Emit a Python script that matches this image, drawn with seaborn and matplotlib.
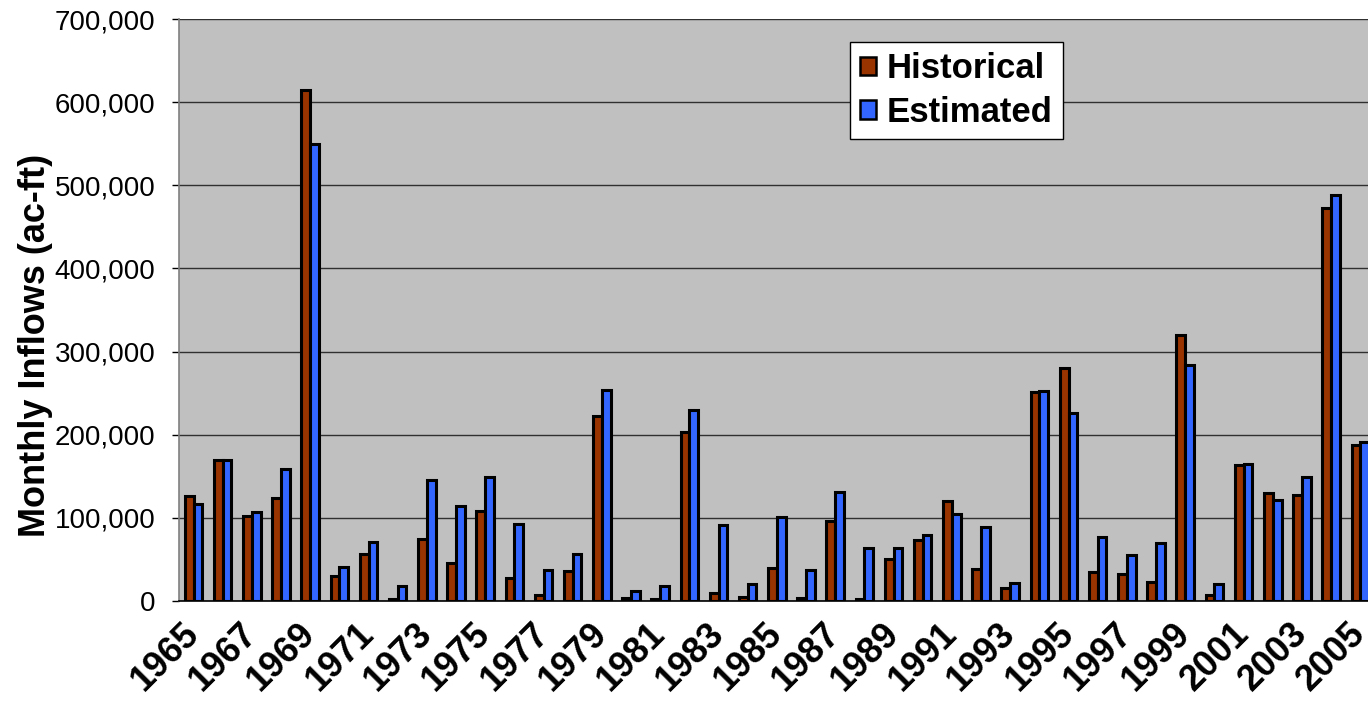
import numpy as np
import pandas as pd
import matplotlib
matplotlib.use("Agg")
import matplotlib.pyplot as plt
from matplotlib.patches import Patch
from matplotlib.ticker import FuncFormatter
import seaborn as sns

years = list(range(1965, 2006))
historical = [126000, 169500, 102000, 124000, 614500, 30500, 57000, 3000, 74000, 46000,
              108000, 27300, 6800, 35700, 223000, 3600, 2400, 203000, 10000, 4400,
              39400, 4000, 96000, 2400, 50600, 73000, 119700, 38600, 15700, 251000,
              280000, 35200, 32800, 22400, 320000, 7200, 163600, 130000, 128000, 472800,
              188000]
estimated = [116700, 170000, 107300, 158500, 549600, 40700, 70700, 18300, 145500, 113800,
             149000, 92400, 37800, 57000, 253400, 12000, 17700, 229700, 91000, 20000,
             100800, 37300, 131000, 63900, 63500, 80000, 104800, 89000, 21700, 252600,
             225600, 76400, 54800, 70000, 284400, 20000, 164400, 121200, 149200, 488000,
             190800]
series = ["Historical", "Estimated"]
colors = ["#993300", "#3366FF"]

df = pd.DataFrame({
    "Year": [str(y) for y in years] * 2,
    "Inflow": historical + estimated,
    "Series": [series[0]] * len(years) + [series[1]] * len(years),
})

sns.set_style("white")
plt.rcParams["font.family"] = ["Liberation Sans", "DejaVu Sans"]
plt.rcParams["text.color"] = "black"
plt.rcParams["axes.labelcolor"] = "black"
plt.rcParams["xtick.color"] = "black"
plt.rcParams["ytick.color"] = "black"

fig = plt.figure(figsize=(13.68, 7.10), dpi=100)
ax = fig.add_axes([0.1308, 0.1535, 0.8742, 0.8197])
ax.set_facecolor("#C0C0C0")

sns.barplot(data=df, x="Year", y="Inflow", hue="Series", palette=colors,
            width=0.6, edgecolor="black", linewidth=2.2, saturation=1,
            legend=False, ax=ax)

ax.set_ylim(0, 700000)
ax.set_xlim(-0.5, len(years) - 0.5)
ax.set_yticks(np.arange(0, 700001, 100000))
ax.yaxis.set_major_formatter(FuncFormatter(lambda v, p: f"{v:,.0f}"))
ax.yaxis.grid(True, color="#303030", linewidth=1.0)
ax.set_axisbelow(True)

ax.set_xticks(range(0, len(years), 2))
ax.set_xticklabels([str(y) for y in years[::2]], rotation=45, ha="right",
                   va="center", rotation_mode="anchor", fontsize=26, fontweight="bold")
ax.set_xticks(np.arange(-0.5, len(years), 1), minor=True)
ax.tick_params(axis="x", which="major", length=0, pad=20)
ax.tick_params(axis="x", which="minor", length=8, width=1, color="black", direction="out")
ax.tick_params(axis="y", length=5, width=1, color="black", direction="out",
               labelsize=20, pad=12, left=True)

for s in ["top", "right"]:
    ax.spines[s].set_visible(False)
ax.spines["left"].set_color("#808080")
ax.spines["left"].set_linewidth(1.2)
ax.spines["bottom"].set_color("black")
ax.spines["bottom"].set_linewidth(1.2)

ax.set_xlabel("")
ax.set_ylabel("Monthly Inflows (ac-ft)", fontsize=26, fontweight="bold")
ax.yaxis.set_label_coords(-0.105, 0.44)

handles = [Patch(facecolor=c, edgecolor="black", linewidth=1.8) for c in colors]
leg = ax.legend(handles, series, loc="upper left", bbox_to_anchor=(0.561, 0.9605),
                prop={"size": 25, "weight": "bold"}, frameon=True, fancybox=False,
                framealpha=1, edgecolor="black", borderpad=0.3, labelspacing=0.3,
                handlelength=0.45, handleheight=0.45, handletextpad=0.3,
                borderaxespad=0)
leg.get_frame().set_linewidth(1.0)

fig.savefig("out.png", dpi=100)
